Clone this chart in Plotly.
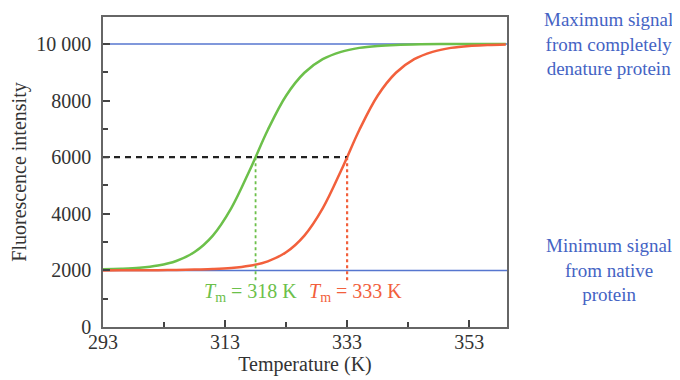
import plotly.graph_objects as go

# Data
temps = [293, 296, 299, 302, 305, 308, 311, 314, 317, 318, 320, 323, 326, 329, 332, 335, 338, 341, 345, 350, 355, 359]
green_vals = [2040, 2055, 2090, 2170, 2330, 2650, 3230, 4190, 5520, 6000, 6960, 8170, 8980, 9460, 9720, 9860, 9930, 9965, 9985, 9995, 9999, 10000]

temps_red = [293, 296, 299, 302, 305, 308, 311, 314, 317, 320, 323, 326, 329, 332, 333, 335, 338, 341, 344, 347, 350, 353, 356, 359]
red_vals = [2000, 2001, 2003, 2007, 2014, 2030, 2045, 2080, 2160, 2320, 2640, 3230, 4190, 5520, 6000, 6960, 8170, 8980, 9460, 9720, 9860, 9930, 9960, 9980]

max_signal = 10000
min_signal = 2000
half_signal = 6000
tm_green = 318
tm_red = 333
x_range = [293, 359.2]
y_range = [0, 10950]
x_ticks = [293, 313, 333, 353]
y_ticks = [0, 2000, 4000, 6000, 8000, 10000]
y_tick_labels = ["0", "2000", "4000", "6000", "8000", "10 000"]

BLUE = "#5676cf"
TEXT_BLUE = "#4463c4"
GREEN = "#6cc04a"
RED = "#f2603c"
FONT = "Liberation Serif"
FS = 20

fig = go.Figure()

# baseline/plateau lines
fig.add_trace(go.Scatter(x=x_range, y=[max_signal, max_signal], mode="lines",
                         line=dict(color=BLUE, width=1.5), hoverinfo="skip"))
fig.add_trace(go.Scatter(x=x_range, y=[min_signal, min_signal], mode="lines",
                         line=dict(color=BLUE, width=1.5), hoverinfo="skip"))

# curves
fig.add_trace(go.Scatter(x=temps, y=green_vals, mode="lines", line_shape="spline",
                         line=dict(color=GREEN, width=2.5)))
fig.add_trace(go.Scatter(x=temps_red, y=red_vals, mode="lines", line_shape="spline",
                         line=dict(color=RED, width=2.5)))

# half-signal dashed line
fig.add_trace(go.Scatter(x=[x_range[0], tm_red], y=[half_signal, half_signal], mode="lines",
                         line=dict(color="#222222", width=2.2, dash="6px,5px")))
# Tm verticals
fig.add_trace(go.Scatter(x=[tm_green, tm_green], y=[half_signal, 1650], mode="lines",
                         line=dict(color=GREEN, width=1.8, dash="dot")))
fig.add_trace(go.Scatter(x=[tm_red, tm_red], y=[half_signal, 1650], mode="lines",
                         line=dict(color=RED, width=2.2, dash="dot")))

fig.add_annotation(x=tm_green - 0.8, y=1230, xref="x", yref="y", showarrow=False,
                   text="<i>T</i><sub>m</sub> = 318 K", font=dict(family=FONT, size=FS, color=GREEN))
fig.add_annotation(x=tm_red + 1.3, y=1230, xref="x", yref="y", showarrow=False,
                   text="<i>T</i><sub>m</sub> = 333 K", font=dict(family=FONT, size=FS, color=RED))

fig.add_annotation(x=1.252, y=max_signal, xref="paper", yref="y", showarrow=False,
                   xanchor="center", align="center",
                   text="Maximum signal<br>from completely<br>denature protein",
                   font=dict(family=FONT, size=19, color=TEXT_BLUE))
fig.add_annotation(x=1.252, y=min_signal, xref="paper", yref="y", showarrow=False,
                   xanchor="center", align="center",
                   text="Minimum signal<br>from native<br>protein",
                   font=dict(family=FONT, size=19, color=TEXT_BLUE))

axis_common = dict(showline=True, linecolor="#666666", linewidth=1.5, mirror=True,
                   ticks="inside", ticklen=7, tickcolor="#444444", tickwidth=1.5,
                   showgrid=False, zeroline=False, automargin=False,
                   tickfont=dict(family=FONT, size=FS, color="#333333"))

fig.update_xaxes(range=x_range, tickvals=x_ticks, ticktext=[str(t) for t in x_ticks],
                 minor=dict(dtick=10, tick0=293, ticks="inside", ticklen=5, tickcolor="#444444"),
                 ticklabelstandoff=-4,
                 title=dict(text="Temperature (K)", font=dict(family=FONT, size=FS, color="#333333"), standoff=2),
                 **axis_common)
fig.update_yaxes(range=y_range, tickvals=y_ticks, ticktext=y_tick_labels,
                 minor=dict(dtick=1000, tick0=0, ticks="inside", ticklen=5, tickcolor="#444444"),
                 ticklabelstandoff=6,
                 title=dict(text="Fluorescence intensity", font=dict(family=FONT, size=FS, color="#333333"), standoff=4),
                 **axis_common)

# page body adds an 8px offset, so the figure is sized/offset to compensate
fig.update_layout(width=672, height=372, showlegend=False,
                  margin=dict(l=95, r=173, t=9, b=53),
                  plot_bgcolor="white", paper_bgcolor="white",
                  font=dict(family=FONT, size=FS))

fig.write_html("out.html")
